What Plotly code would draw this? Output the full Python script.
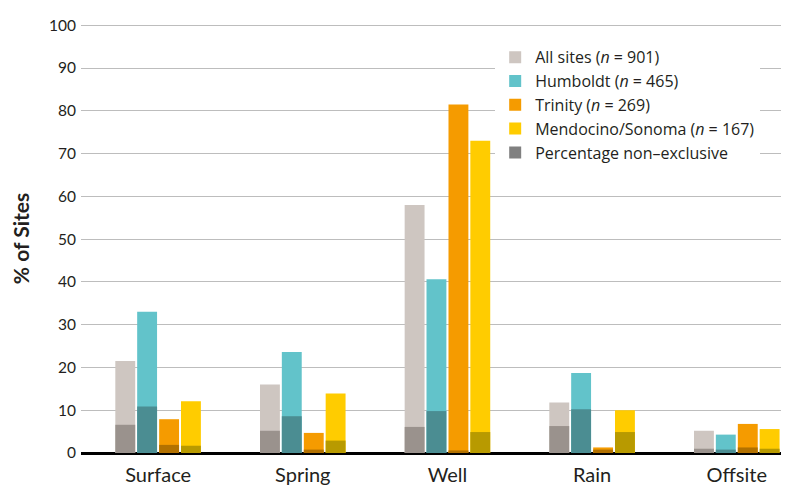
import plotly.graph_objects as go

categories = ["Surface", "Spring", "Well", "Rain", "Offsite"]
series_names = ["All sites (<i>n</i> = 901)", "Humboldt (<i>n</i> = 465)",
                "Trinity (<i>n</i> = 269)", "Mendocino/Sonoma (<i>n</i> = 167)"]
total_all = [21.5, 16.0, 58.0, 11.8, 5.2]
total_humboldt = [33.0, 23.6, 40.6, 18.7, 4.3]
total_trinity = [7.9, 4.7, 81.5, 1.3, 6.8]
total_mendo = [12.1, 13.9, 73.0, 10.0, 5.6]
nonexcl_all = [6.6, 5.2, 6.1, 6.3, 1.0]
nonexcl_humboldt = [10.9, 8.6, 9.8, 10.2, 0.8]
nonexcl_trinity = [1.9, 0.8, 0.6, 0.8, 1.3]
nonexcl_mendo = [1.7, 2.9, 4.9, 4.9, 1.0]
y_ticks = [0, 10, 20, 30, 40, 50, 60, 70, 80, 90, 100]

totals = [total_all, total_humboldt, total_trinity, total_mendo]
nonexcl = [nonexcl_all, nonexcl_humboldt, nonexcl_trinity, nonexcl_mendo]
light_colors = ["#CEC6C1", "#62C3CA", "#F59B00", "#FFCC00"]
dark_colors = ["#9A928D", "#4B8D92", "#B27100", "#B89A00"]
offsets = [-0.227, -0.076, 0.076, 0.227]
bar_w = 0.1375

FONT = "Lato"
fig = go.Figure()
xs_base = list(range(len(categories)))
for k in range(4):
    xs = [i + offsets[k] for i in xs_base]
    fig.add_trace(go.Bar(x=xs, y=totals[k], width=bar_w, name=series_names[k],
                         marker=dict(color=light_colors[k], line=dict(width=0)),
                         hoverinfo="y"))
for k in range(4):
    xs = [i + offsets[k] for i in xs_base]
    fig.add_trace(go.Bar(x=xs, y=nonexcl[k], width=bar_w, showlegend=False,
                         marker=dict(color=dark_colors[k], line=dict(width=0)),
                         hoverinfo="y"))
fig.add_trace(go.Bar(x=[0], y=[0], width=0.001, name="Percentage non\u2013exclusive",
                     marker=dict(color="#808080", line=dict(width=0))))

fig.update_layout(
    width=789, height=489,
    barmode="overlay",
    margin=dict(l=69, r=8, t=8, b=44),
    paper_bgcolor="white", plot_bgcolor="white",
    font=dict(family=FONT, size=16, color="#231F20"),
    showlegend=True,
    legend=dict(x=0.585, y=0.962, xanchor="left", yanchor="top",
                bgcolor="white", font=dict(size=16, family="Open Sans", color="#231F20"),
                tracegroupgap=0, itemwidth=30),
    xaxis=dict(range=[-0.533, 4.361], tickvals=xs_base, ticktext=categories,
               showgrid=False, zeroline=False, showline=False, ticks="",
               ticklabelstandoff=8, tickfont=dict(size=20)),
    yaxis=dict(range=[0, 100.3], tickvals=y_ticks, showgrid=True,
               gridcolor="#BDBDBD", gridwidth=1, zeroline=True,
               zerolinecolor="black", zerolinewidth=3, ticks="",
               ticklabelstandoff=4, ticklabeloverflow="allow", tickfont=dict(size=15.5),
               title=dict(text="<b>% of Sites</b>", font=dict(size=21), standoff=18)),
)
fig.write_html("out.html")
